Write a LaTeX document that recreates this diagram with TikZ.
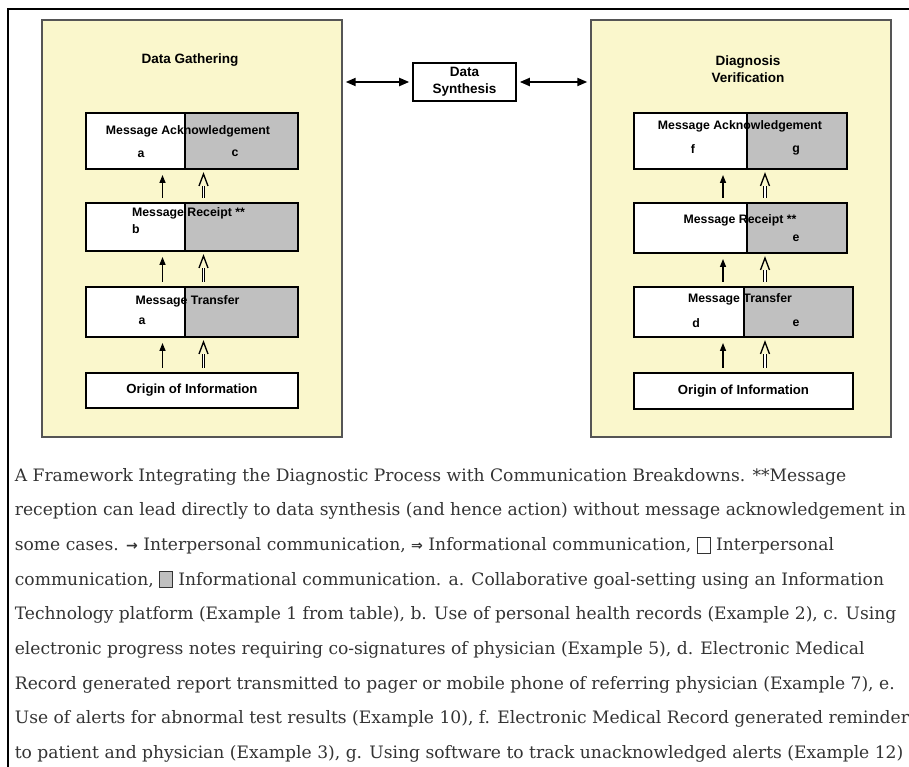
\documentclass[tikz,border=0pt]{standalone}
\usepackage{fontspec}
\setmainfont{Liberation Sans}
\newfontfamily\capfont{DejaVu Serif}
\newfontfamily\symfont{DejaVu Sans}
\usetikzlibrary{positioning,arrows.meta,calc}
\definecolor{paneyellow}{RGB}{250,247,204}
\definecolor{panelline}{RGB}{85,85,85}
\definecolor{infogray}{RGB}{192,192,192}
\definecolor{captext}{RGB}{51,51,51}
\setlength{\fboxsep}{0pt}
\setlength{\fboxrule}{0.5pt}
\newcommand{\legendwhite}{\raisebox{-0.4mm}{\fcolorbox{captext}{white}{\rule{0pt}{3mm}\hspace{2.4mm}}}}
\newcommand{\legendgray}{\raisebox{-0.4mm}{\fcolorbox{captext}{infogray}{\rule{0pt}{3mm}\hspace{2.4mm}}}}
\tikzset{
  panel/.style={draw=panelline, line width=0.8pt, fill=paneyellow, minimum width=6cm, minimum height=8.34cm},
  half/.style={draw, line width=0.9pt, inner sep=0pt, outer sep=0pt},
  wpart/.style={half, fill=white},
  gpart/.style={half, fill=infogray},
  lbl/.style={font=\fontsize{7}{8.4}\selectfont\bfseries, inner sep=0pt},
  title/.style={font=\fontsize{7.7}{9.6}\selectfont\bfseries, align=center, inner sep=0pt},
  intarrow/.style={line width=0.8pt, -{Triangle[length=1.6mm,width=1.2mm]}, shorten <=0.1cm, shorten >=0.12cm},
  infoline/.style={double, double distance=1.1pt, line width=0.55pt, shorten <=0.1cm},
  chevron/.style={line width=0.75pt},
  linkarrow/.style={line width=1.1pt, {Triangle[length=2mm,width=1.6mm]}-{Triangle[length=2mm,width=1.6mm]}, shorten <=0.06cm, shorten >=0.06cm}
}
\begin{document}
\begin{tikzpicture}[y=-1cm]
\useasboundingbox (0,0) rectangle (18.18,15.34);
\draw[line width=1.1pt] (0.16,15.34) -- (0.16,0.18) -- (18.18,0.18);

% the two stages
\node[panel] (lpanel) at (3.84,4.57) {};
\node[panel] (rpanel) at (14.82,4.57) {};
\node[title] (ltitle) at (3.8,1.2) {Data Gathering};
\node[title] (rtitle) at (14.96,1.38) {Diagnosis\\Verification};
\node[draw, line width=0.9pt, fill=white, minimum width=2.06cm, minimum height=0.76cm, title] (synth) at (9.29,1.64) {Data\\Synthesis};
\draw[linkarrow] (lpanel.east |- synth.west) -- (synth.west);
\draw[linkarrow] (synth.east) -- (rpanel.west |- synth.east);

% left column
\node[wpart, minimum width=1.98cm, minimum height=1.12cm, anchor=west] (lackw) at (1.72,2.82) {};
\node[gpart, minimum width=2.26cm, minimum height=1.12cm, right=0pt of lackw] (lackg) {};
\node[wpart, minimum width=1.98cm, minimum height=0.96cm, anchor=west] (lrecw) at (1.72,4.54) {};
\node[gpart, minimum width=2.26cm, minimum height=0.96cm, right=0pt of lrecw] (lrecg) {};
\node[wpart, minimum width=1.98cm, minimum height=1cm, anchor=west] (ltraw) at (1.72,6.24) {};
\node[gpart, minimum width=2.26cm, minimum height=1cm, right=0pt of ltraw] (ltrag) {};
\node[wpart, minimum width=4.24cm, minimum height=0.7cm, font=\fontsize{7.5}{9}\selectfont\bfseries] (lori) at (3.84,7.81) {Origin of Information};
\node[lbl] (lackt) at (3.76,2.62) {Message Acknowledgement};
\node[lbl] (lacka) at (2.82,3.08) {a};
\node[lbl] (lackc) at (4.70,3.06) {c};
\node[lbl] (lrect) at (3.77,4.27) {Message Receipt **};
\node[lbl] (lrecb) at (2.72,4.58) {b};
\node[lbl] (ltrat) at (3.75,6.02) {Message Transfer};
\node[lbl] (ltraa) at (2.84,6.42) {a};

% right column
\node[wpart, minimum width=2.26cm, minimum height=1.12cm, anchor=west] (rackw) at (12.68,2.82) {};
\node[gpart, minimum width=2cm, minimum height=1.12cm, right=0pt of rackw] (rackg) {};
\node[wpart, minimum width=2.26cm, minimum height=1cm, anchor=west] (rrecw) at (12.68,4.56) {};
\node[gpart, minimum width=2cm, minimum height=1cm, right=0pt of rrecw] (rrecg) {};
\node[wpart, minimum width=2.2cm, minimum height=1cm, anchor=west] (rtraw) at (12.68,6.24) {};
\node[gpart, minimum width=2.18cm, minimum height=1cm, right=0pt of rtraw] (rtrag) {};
\node[wpart, minimum width=4.38cm, minimum height=0.72cm, font=\fontsize{7.5}{9}\selectfont\bfseries] (rori) at (14.87,7.82) {Origin of Information};
\node[lbl] (rackt) at (14.8,2.52) {Message Acknowledgement};
\node[lbl] (rackf) at (13.86,2.99) {f};
\node[lbl] (rackg) at (15.92,3.0) {g};
\node[lbl] (rrect) at (14.8,4.4) {Message Receipt **};
\node[lbl] (rrece) at (15.92,4.77) {e};
\node[lbl] (rtrat) at (14.8,5.98) {Message Transfer};
\node[lbl] (rtrad) at (13.92,6.46) {d};
\node[lbl] (rtrae) at (15.92,6.46) {e};

% arrows: single = interpersonal, double = informational
\coordinate (sl) at (3.25,0);
\coordinate (dl) at (4.07,0);
\coordinate (sr) at (14.46,0);
\coordinate (dr) at (15.3,0);
\foreach \lo/\hi/\c in {lori/ltraw/l, ltraw/lrecw/l, lrecw/lackw/l, rori/rtraw/r, rtraw/rrecw/r, rrecw/rackw/r}{
  \draw[intarrow] (\lo.north -| s\c) -- (\hi.south -| s\c);
  \draw[infoline] (\lo.north -| d\c) -- ($(\hi.south -| d\c)+(0,0.34)$);
  \draw[chevron] ($(\hi.south -| d\c)+(-0.09,0.34)$) -- ++(0.09,-0.24) -- ++(0.09,0.24);
}

% caption
\node[anchor=north west, inner sep=0pt, align=left, text=captext, font=\capfont\fontsize{9.75}{19.7}\selectfont] (caption) at (0.29,9.36) {A Framework Integrating the Diagnostic Process with Communication Breakdowns. **Message\\
reception can lead directly to data synthesis (and hence action) without message acknowledgement in\\
some cases. {\symfont\bfseries\footnotesize →} Interpersonal communication, {\symfont\bfseries\footnotesize ⇒} Informational communication, \legendwhite{} Interpersonal\\
communication, \legendgray{} Informational communication. a. Collaborative goal-setting using an Information\\
Technology platform (Example 1 from table), b. Use of personal health records (Example 2), c. Using\\
electronic progress notes requiring co-signatures of physician (Example 5), d. Electronic Medical\\
Record generated report transmitted to pager or mobile phone of referring physician (Example 7), e.\\
Use of alerts for abnormal test results (Example 10), f. Electronic Medical Record generated reminders\\
to patient and physician (Example 3), g. Using software to track unacknowledged alerts (Example 12)};
\end{tikzpicture}
\end{document}
